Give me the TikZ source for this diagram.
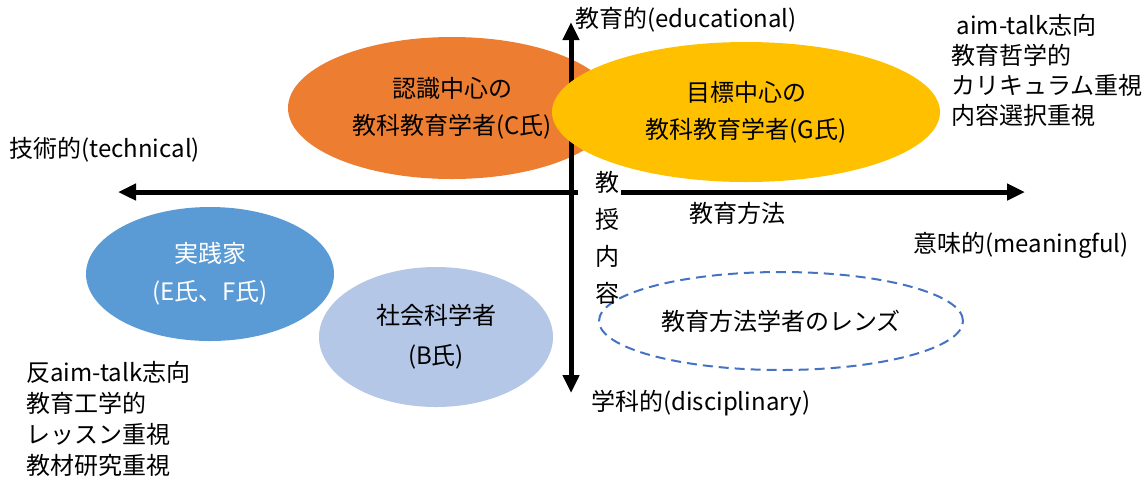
\documentclass[tikz,border=0pt]{standalone}
\usepackage{fontspec}
\setmainfont{Noto Sans CJK JP}
\usetikzlibrary{arrows.meta,shapes.geometric}
\definecolor{corange}{HTML}{ED7D31}
\definecolor{cyellow}{HTML}{FFC000}
\definecolor{cblue}{HTML}{5B9BD5}
\definecolor{clight}{HTML}{B4C7E7}
\definecolor{cdash}{HTML}{4472C4}
\begin{document}
\begin{tikzpicture}[x=0.5pt,y=-0.5pt,
  font=\fontsize{12}{18.5}\selectfont,
  blob/.style={ellipse, inner sep=0pt, align=center},
  axisline/.style={line width=2.5pt, -{Triangle[length=9pt,width=8pt]}},
  lbl/.style={inner sep=0pt, anchor=west},
  block/.style={inner sep=0pt, anchor=west, align=left}]
\useasboundingbox (0,0) rectangle (1146,479);
% orange ellipse (below the axis)
\node[blob, fill=corange, minimum width=164pt, minimum height=71pt] (C) at (452,108) {認識中心の\\教科教育学者(C氏)};
% axes
\coordinate (top) at (571,22);
\coordinate (bot) at (571,393);
\coordinate (hl0) at (578,192);
\coordinate (hl1) at (118,192);
\coordinate (hr0) at (621,192);
\coordinate (hr1) at (1025,192);
\draw[line width=2.5pt, {Triangle[length=9pt,width=8pt]}-{Triangle[length=9pt,width=8pt]}] (bot) -- (top);
\draw[axisline] (hl0) -- (hl1);
\draw[axisline] (hr0) -- (hr1);
% yellow ellipse (above the axis)
\node[blob, fill=cyellow, minimum width=194pt, minimum height=70pt] (G) at (746,112) {目標中心の\\教科教育学者(G氏)};
% blue ellipses
\node[blob, fill=cblue, text=white, minimum width=124pt, minimum height=67pt, font=\fontsize{12}{19}\selectfont] (EF) at (210,274) {実践家\\(E氏、F氏)};
\node[blob, fill=clight, minimum width=117pt, minimum height=70pt, font=\fontsize{12}{20}\selectfont] (B) at (436,337) {社会科学者\\(B氏)};
\node[blob, draw=cdash, line width=1pt, dash pattern=on 5pt off 3pt, minimum width=182pt, minimum height=49pt] (lens) at (781,321) {教育方法学者のレンズ};
% axis labels
\node[lbl] (edu) at (575,20) {教育的(educational)};
\node[lbl] (tech) at (9,150) {技術的(technical)};
\node[lbl] (mean) at (913,245) {意味的(meaningful)};
\node[lbl] (disc) at (591,403) {学科的(disciplinary)};
\node[inner sep=0pt] (meth) at (737,213) {教育方法};
\node[inner sep=0pt, align=center] (content) at (607,238) {教\\授\\内\\容};
% corner blocks
\node[block, font=\fontsize{12}{15}\selectfont] (tr) at (951,70) {\ aim-talk志向\\教育哲学的\\カリキュラム重視\\内容選択重視};
\node[block, font=\fontsize{12}{15.5}\selectfont] (bl) at (26,419) {反aim-talk志向\\教育工学的\\レッスン重視\\教材研究重視};
\end{tikzpicture}
\end{document}
